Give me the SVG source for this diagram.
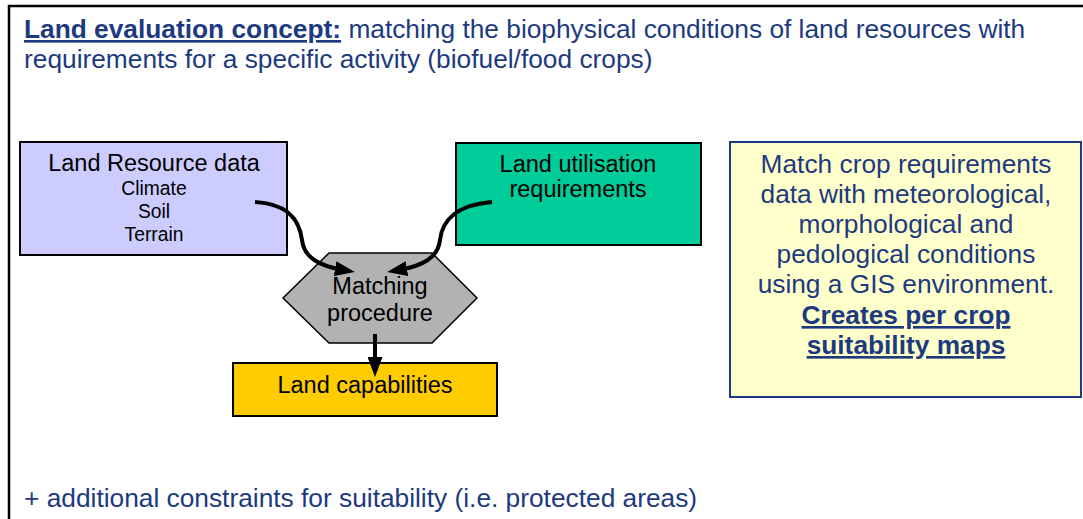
<svg xmlns="http://www.w3.org/2000/svg" width="1083" height="519" viewBox="0 0 1083 519">
<defs>
<style>
text { font-family: "Liberation Sans", Arial, sans-serif; }
.navy { fill:#1D3A80; font-size:26.3px; }
.ctr { text-anchor:middle; }
.u { font-weight:bold; text-decoration:underline; }
.box { stroke:#000; stroke-width:2; }
.lbl { fill:#000; font-size:23.5px; text-anchor:middle; }
.sub { fill:#000; font-size:19.3px; text-anchor:middle; }
.conn { fill:none; stroke:#000; stroke-width:4; }
</style>
<marker id="ah" markerUnits="userSpaceOnUse" markerWidth="20" markerHeight="15" refX="8" refY="7.5" orient="auto"><path d="M0,0 L20,7.5 L0,15 z" fill="#000"/></marker>
</defs>
<rect x="0" y="0" width="1083" height="519" fill="#fff"/>
<path d="M9,519 L9,6 L1083,6" fill="none" stroke="#000" stroke-width="2.5"/>

<g id="title">
<text x="24" y="38" class="navy"><tspan class="u">Land evaluation concept:</tspan> matching the biophysical conditions of land resources with</text>
<text x="24" y="68" class="navy">requirements for a specific activity (biofuel/food crops)</text>
</g>

<g id="land-resource">
<rect x="20" y="142" width="267" height="113" fill="#CCCCFF" class="box"/>
<text x="154" y="171" class="lbl">Land Resource data</text>
<text x="154" y="195" class="sub">Climate</text>
<text x="154" y="218" class="sub">Soil</text>
<text x="154" y="241" class="sub">Terrain</text>
</g>

<g id="land-utilisation">
<rect x="456" y="143" width="245" height="102" fill="#00CC99" class="box"/>
<text x="578" y="172" class="lbl">Land utilisation</text>
<text x="578" y="197" class="lbl">requirements</text>
</g>

<g id="matching">
<polygon points="283,298 329,253 432,253 477,298 432,343 329,343" fill="#B2B2B2" stroke="#000" stroke-width="1.5"/>
<text x="380" y="294" class="lbl">Matching</text>
<text x="380" y="321" class="lbl">procedure</text>
</g>

<g id="land-capabilities">
<rect x="233" y="363" width="264" height="53" fill="#FFCC00" class="box"/>
<text x="365" y="393" class="lbl">Land capabilities</text>
</g>

<g id="note">
<rect x="730" y="142" width="351" height="255" fill="#FFFFCC" stroke="#1D3A80" stroke-width="2"/>
<text x="906" y="173" class="navy ctr">Match crop requirements</text>
<text x="906" y="203" class="navy ctr">data with meteorological,</text>
<text x="906" y="233" class="navy ctr">morphological and</text>
<text x="906" y="263" class="navy ctr">pedological conditions</text>
<text x="906" y="293" class="navy ctr">using a GIS environment.</text>
<text x="906" y="324" class="navy ctr u">Creates per crop</text>
<text x="906" y="354" class="navy ctr u">suitability maps</text>
</g>

<g id="footer">
<text x="24" y="507" class="navy">+ additional constraints for suitability (i.e. protected areas)</text>
</g>

<g id="connectors">
<path class="conn" d="M255,202 C292,204 300,224 302,240 C304,258 320,266 343,270" marker-end="url(#ah)"/>
<path class="conn" d="M492,202 C455,205 442,222 440,240 C438,258 422,266 399,270" marker-end="url(#ah)"/>
<path class="conn" d="M375,334 L375,365" marker-end="url(#ah)"/>
</g>
</svg>
